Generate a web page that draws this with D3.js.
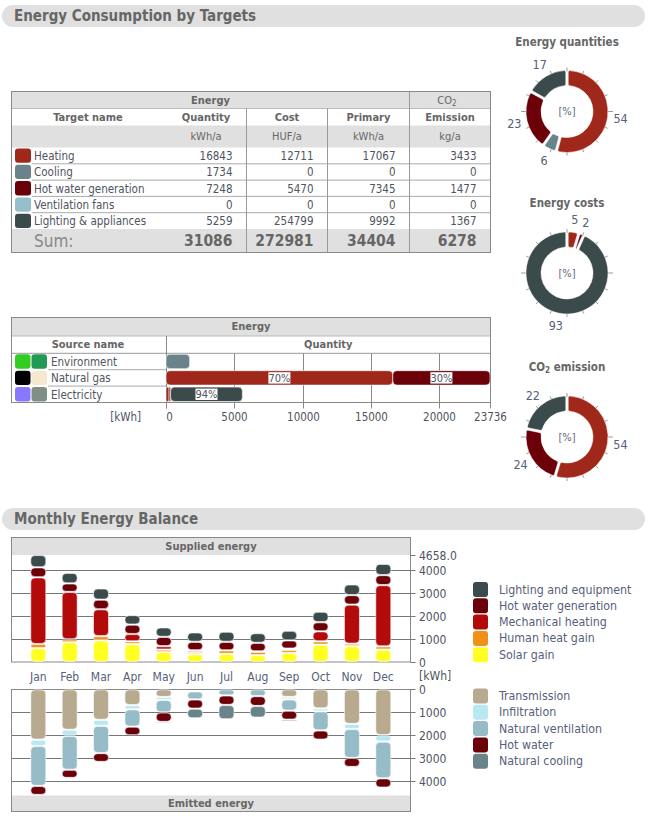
<!DOCTYPE html>
<html><head><meta charset="utf-8">
<script src="https://cdn.jsdelivr.net/npm/d3@7"></script>
<style>
body{margin:0;background:#fff;}
svg text{font-family:'DejaVu Sans Condensed','DejaVu Sans',sans-serif;font-stretch:condensed;}
</style></head><body>
<svg id="c" width="650" height="824"></svg>
<script>
// ---------------- DATA ----------------
const targets = ["Heating","Cooling","Hot water generation","Ventilation fans","Lighting & appliances"];
const targetColors = ["#a0281a","#6a838b","#6b0008","#96bfcc","#3b4a4a"];
const quantity = [16843,1734,7248,0,5259];
const cost = [12711,0,5470,0,254799];
const primary = [17067,0,7345,0,9992];
const emission = [3433,0,1477,0,1367];
const sums = [31086,272981,34404,6278];
const columnHeads = ["Quantity","Cost","Primary","Emission"];
const columnUnits = ["kWh/a","HUF/a","kWh/a","kg/a"];

const quantityPct = [54,6,23,0,17];
const costPct = [5,0,2,0,93];
const emissionPct = [54,0,24,0,22];

const sources = ["Environment","Natural gas","Electricity"];
const sourceSwatchA = ["#33cc22","#000000","#8877ff"];
const sourceSwatchB = ["#229955","#f5e8cc","#7f8f85"];
// stacked segments per source: target index, value, label
const envSegTarget = [1], envSegValue = [1734], envSegLabel = [""];
const gasSegTarget = [0,2], gasSegValue = [16615,7121], gasSegLabel = ["70%","30%"];
const elecSegTarget = [0,2,4], elecSegValue = [228,108,5259], elecSegLabel = ["","","94%"];
const sourceTicks = [0,5000,10000,15000,20000,23736];

const months = ["Jan","Feb","Mar","Apr","May","Jun","Jul","Aug","Sep","Oct","Nov","Dec"];
const solarGain   = [608,860,940,775,435,340,355,295,398,754,690,543];
const humanGain   = [175,125,183,123,108,90,152,150,130,145,107,138];
const mechHeating = [2905,2065,1174,320,145,80,0,20,58,438,1703,2667];
const hotWaterGen = [435,370,418,412,406,370,373,370,355,395,413,435];
const lighting    = [535,464,488,413,413,410,439,420,420,456,464,492];

const transmission = [2190,1760,1326,688,333,50,0,0,333,833,1507,1993];
const infiltration = [275,262,261,182,131,40,0,0,109,124,218,282];
const natVent      = [1738,1478,1188,753,543,352,268,297,486,833,1261,1595];
const hotWater     = [391,355,384,377,413,399,413,428,391,398,391,405];
const natCooling   = [0,0,0,0,73,420,623,507,87,58,0,0];

const suppliedNames = ["Lighting and equipment","Hot water generation","Mechanical heating","Human heat gain","Solar gain"];
const suppliedColors = ["#3b4a4a","#6b0008","#b30a0a","#f0901a","#ffff22"];
const emittedNames = ["Transmission","Infiltration","Natural ventilation","Hot water","Natural cooling"];
const emittedColors = ["#b8aa8e","#b8e8f2","#96bcc8","#6b0008","#6a838b"];
const monthTicks = [0,1000,2000,3000,4000];
const monthMax = 4658;

// ---------------- DRAW ----------------
const svg = d3.select("#c");
const TXT = "#4f5460", HEAD = "#666", LINE = "#999", GRAYBG = "#e0e0e0", LBL = "#56607a";

function text(g,x,y,s,o={}){
  return g.append("text").attr("x",x).attr("y",y).text(s)
    .attr("font-size",o.size||11.5).attr("font-weight",o.bold?"bold":"normal")
    .attr("fill",o.fill||TXT).attr("text-anchor",o.anchor||"start")
    .attr("dominant-baseline","central");
}
function hline(g,x1,x2,y,c){g.append("line").attr("x1",x1).attr("x2",x2).attr("y1",y).attr("y2",y).attr("stroke",c||LINE).attr("stroke-width",1);}
function vline(g,x,y1,y2,c){g.append("line").attr("x1",x).attr("x2",x).attr("y1",y1).attr("y2",y2).attr("stroke",c||LINE).attr("stroke-width",1);}

// section headers
function section(y,title){
  svg.append("rect").attr("x",2).attr("y",y).attr("width",643).attr("height",22).attr("rx",11).attr("fill",GRAYBG);
  text(svg,14,y+11,title,{size:15,bold:true,fill:"#666"});
}
section(5,"Energy Consumption by Targets");
section(508,"Monthly Energy Balance");

// ---- Table 1 ----
{
  const g = svg.append("g");
  const X0=11.5, X1=490.5, colR=[246.5,327.5,409.5,490.5], colL=[165.5,246.5,327.5,409.5];
  const r0=91.5, r1=108.5, r2=125.5, r3=147.5, rh=16.3, nRows=targets.length;
  const sumTop = r3+rh*nRows, sumBot=252.5;
  g.append("rect").attr("x",X0).attr("y",r0).attr("width",X1-X0).attr("height",r1-r0).attr("fill",GRAYBG);
  g.append("rect").attr("x",X0).attr("y",r2).attr("width",X1-X0).attr("height",r3-r2).attr("fill",GRAYBG);
  g.append("rect").attr("x",X0).attr("y",sumTop).attr("width",X1-X0).attr("height",sumBot-sumTop).attr("fill",GRAYBG);
  for(let i=1;i<nRows;i++) hline(g,32,X1,r3+rh*i,"#aaa");
  hline(g,X0,X1,r1,"#bbb");
  [246.5,327.5].forEach(x=>vline(g,x,r1,sumBot));
  vline(g,409.5,r0,sumBot);
  g.append("rect").attr("x",X0).attr("y",r0).attr("width",X1-X0).attr("height",sumBot-r0).attr("fill","none").attr("stroke","#888");
  text(g,(X0+409.5)/2,(r0+r1)/2,"Energy",{bold:true,fill:HEAD,anchor:"middle",size:11});
  const co = text(g,447,(r0+r1)/2,"CO",{fill:HEAD,anchor:"middle",size:11});
  co.append("tspan").attr("font-size",8).attr("dy",3).text("2");
  text(g,88,(r1+r2)/2,"Target name",{bold:true,fill:HEAD,anchor:"middle",size:11});
  columnHeads.forEach((h,i)=>{
    text(g,(colL[i]+colR[i])/2,(r1+r2)/2,h,{bold:true,fill:HEAD,anchor:"middle",size:11});
    text(g,(colL[i]+colR[i])/2,(r2+r3)/2,columnUnits[i],{fill:HEAD,anchor:"middle",size:11});
  });
  const cols=[quantity,cost,primary,emission];
  targets.forEach((t,i)=>{
    const y=r3+rh*i;
    g.append("rect").attr("x",15).attr("y",y+1).attr("width",16).attr("height",rh-2).attr("rx",3).attr("fill",targetColors[i]);
    text(g,34,y+rh/2+0.5,t);
    cols.forEach((c,j)=>text(g,colR[j]-14,y+rh/2+0.5,c[i],{anchor:"end"}));
  });
  text(g,34,(sumTop+sumBot)/2+0.5,"Sum:",{size:17,fill:"#888"});
  sums.forEach((s,j)=>text(g,colR[j]-14,(sumTop+sumBot)/2+0.5,s,{size:15.5,bold:true,fill:"#666",anchor:"end"}));
}

// ---- Donuts ----
function donut(cx,cy,titleParts,values,pcts){
  const g = svg.append("g").attr("transform",`translate(${cx},${cy})`);
  const tt = g.append("text").attr("x",0).attr("y",-70).attr("text-anchor","middle").attr("dominant-baseline","central")
    .attr("font-size",11.5).attr("font-weight","bold").attr("fill",HEAD);
  titleParts.forEach(p=>{
    const s=tt.append("tspan").text(p.t);
    if(p.sub) s.attr("font-size",8).attr("dy",3); else if(p.after) s.attr("dy",-3);
  });
  d3.range(16).forEach(i=>{
    const a=i*Math.PI/8, long=(i===4||i===12);
    const r1=40, r2= long?46:44;
    g.append("line").attr("x1",r1*Math.sin(a)).attr("y1",-r1*Math.cos(a)).attr("x2",r2*Math.sin(a)).attr("y2",-r2*Math.cos(a))
      .attr("stroke","#999").attr("stroke-width",1);
  });
  const pie=d3.pie().sort(null).value(d=>d)(values);
  const arc=d3.arc().innerRadius(26).outerRadius(41).padAngle(0.05).cornerRadius(1.5);
  g.selectAll("path.s").data(pie).enter().append("path").attr("d",arc)
    .attr("fill",(d,i)=>targetColors[i]).attr("stroke","#fff").attr("stroke-width",0.5);
  text(g,0,0,"[%]",{size:11,fill:"#667",anchor:"middle"});
  pie.forEach((d,i)=>{
    if(d.value<=0) return;
    const a=(d.startAngle+d.endAngle)/2, r=54;
    text(g,r*Math.sin(a),-r*Math.cos(a),pcts[i],{size:12.5,fill:LBL,anchor:"middle"});
  });
}
donut(567,111.5,[{t:"Energy quantities"}],quantity,quantityPct);
donut(567,273,[{t:"Energy costs"}],cost,costPct);
donut(567,437,[{t:"CO"},{t:"2",sub:true},{t:" emission",after:true}],emission,emissionPct);

// ---- Source table ----
{
  const g=svg.append("g");
  const X0=11.5,X1=490.5,XD=166;
  const r0=317.5,r1=336,r2=353.3,rh=16.4;
  const nR=sources.length, bot=r2+rh*nR;
  const x=d3.scaleLinear().domain([0,23736]).range([XD,X1-0.5]);
  g.append("rect").attr("x",X0).attr("y",r0).attr("width",X1-X0).attr("height",r1-r0).attr("fill",GRAYBG);
  text(g,(X0+X1)/2,(r0+r1)/2,"Energy",{bold:true,fill:HEAD,anchor:"middle",size:11});
  text(g,88,(r1+r2)/2,"Source name",{bold:true,fill:HEAD,anchor:"middle",size:11});
  text(g,(XD+X1)/2,(r1+r2)/2,"Quantity",{bold:true,fill:HEAD,anchor:"middle",size:11});
  hline(g,X0,X1,r1,"#bbb");
  hline(g,X0,X1,r2,LINE);
  for(let i=1;i<nR;i++) hline(g,48,XD,r2+rh*i,"#aaa");
  sourceTicks.slice(1,-1).forEach(t=>vline(g,Math.round(x(t))+0.5,r2,bot,"#888"));
  vline(g,XD+0.5,r1,bot+6,"#888");
  sourceTicks.forEach(t=>{const xx=Math.round(x(t))+0.5; vline(g,xx,bot,bot+6,"#888");
    text(g,t===0?xx+3:xx,bot+14,t,{size:11.5,fill:TXT,anchor:"middle"});});
  text(g,141,bot+14,"[kWh]",{size:11.5,fill:TXT,anchor:"end"});
  const segs=[[envSegTarget,envSegValue,envSegLabel],[gasSegTarget,gasSegValue,gasSegLabel],[elecSegTarget,elecSegValue,elecSegLabel]];
  sources.forEach((s,i)=>{
    const y=r2+rh*i;
    g.append("rect").attr("x",15).attr("y",y+1).attr("width",15.5).attr("height",rh-2).attr("rx",3).attr("fill",sourceSwatchA[i]);
    g.append("rect").attr("x",31.5).attr("y",y+1).attr("width",15.5).attr("height",rh-2).attr("rx",3).attr("fill",sourceSwatchB[i]);
    text(g,51,y+rh/2+0.5,s);
    let cum=0;
    const [tg,vals,lbls]=segs[i];
    vals.forEach((v,k)=>{
      const xa=x(cum), xb=x(cum+v);
      g.append("rect").attr("x",xa).attr("y",y+1).attr("width",Math.max(xb-xa,0.5)).attr("height",rh-2)
        .attr("rx",Math.min(4,(xb-xa)/2)).attr("fill",targetColors[tg[k]]).attr("stroke","#fff").attr("stroke-width",0.6);
      if(lbls[k]){
        const cx=(xa+xb)/2;
        g.append("rect").attr("x",cx-11).attr("y",y+2.5).attr("width",22).attr("height",rh-5).attr("fill","#fff");
        text(g,cx,y+rh/2+0.5,lbls[k],{size:11,fill:TXT,anchor:"middle"});
      }
      cum+=v;
    });
  });
  g.append("rect").attr("x",X0).attr("y",r0).attr("width",X1-X0).attr("height",bot-r0).attr("fill","none").attr("stroke","#888");
}

// ---- Monthly balance ----
{
  const g=svg.append("g");
  const X0=11.5,X1=410.5;
  const xm=d3.scalePoint().domain(months).range([38.3,383.3]);
  const yS=d3.scaleLinear().domain([0,monthMax]).range([662,555]);
  const yE=d3.scaleLinear().domain([0,monthMax]).range([689.3,796.4]);
  const bw=15;
  g.append("rect").attr("x",X0).attr("y",537.5).attr("width",X1-X0).attr("height",17.5).attr("fill",GRAYBG);
  text(g,(X0+X1)/2,546.5,"Supplied energy",{bold:true,fill:HEAD,anchor:"middle",size:11});
  monthTicks.slice(1).forEach(t=>hline(g,X0,X1,Math.round(yS(t))+0.5,"#777"));
  g.append("rect").attr("x",X0).attr("y",537.5).attr("width",X1-X0).attr("height",662-537.5).attr("fill","none").attr("stroke","#888");
  g.append("rect").attr("x",X0).attr("y",795.5).attr("width",X1-X0).attr("height",16).attr("fill",GRAYBG);
  text(g,(X0+X1)/2,803.5,"Emitted energy",{bold:true,fill:HEAD,anchor:"middle",size:11});
  monthTicks.slice(1).forEach(t=>hline(g,X0,X1,Math.round(yE(t))+0.5,"#777"));
  g.append("rect").attr("x",X0).attr("y",689.5).attr("width",X1-X0).attr("height",811.5-689.5).attr("fill","none").attr("stroke","#888");
  const axS=monthTicks.concat([monthMax]);
  axS.forEach(t=>{const yy=Math.round(yS(t))+0.5; hline(g,X1,X1+5,yy,"#777");
    text(g,419,yy,t===monthMax?t.toFixed(1):t,{size:12,fill:TXT});});
  monthTicks.forEach(t=>{const yy=Math.round(yE(t))+0.5; hline(g,X1,X1+5,yy,"#777");
    text(g,419,yy,t,{size:12,fill:TXT});});
  text(g,419,676,"[kWh]",{size:12,fill:TXT});
  months.forEach(m=>text(g,xm(m),676.5,m,{size:12,fill:LBL,anchor:"middle"}));
  const sup=[solarGain,humanGain,mechHeating,hotWaterGen,lighting];
  const supCol=[suppliedColors[4],suppliedColors[3],suppliedColors[2],suppliedColors[1],suppliedColors[0]];
  const emi=[transmission,infiltration,natVent,hotWater,natCooling];
  function seg(x,ya,yb,col){
    const top=Math.min(ya,yb)+0.6, h=Math.abs(yb-ya)-1.2;
    if(h<=0.2) return;
    g.append("rect").attr("x",x-bw/2).attr("y",top).attr("width",bw).attr("height",h)
      .attr("rx",Math.min(4,h/2)).attr("fill",col).attr("stroke","#fff").attr("stroke-width",0.6);
  }
  months.forEach((m,i)=>{
    let c=0;
    sup.forEach((s,k)=>{ if(s[i]>0) seg(xm(m),yS(c),yS(c+s[i]),supCol[k]); c+=s[i]; });
    c=0;
    emi.forEach((s,k)=>{ if(s[i]>0) seg(xm(m),yE(c),yE(c+s[i]),emittedColors[k]); c+=s[i]; });
  });
  suppliedNames.forEach((n,i)=>{
    const y=589.5+16.3*i;
    g.append("rect").attr("x",473).attr("y",y-7.5).attr("width",15).attr("height",15).attr("rx",3).attr("fill",suppliedColors[i]);
    text(g,499,y,n,{size:12.3,fill:LBL});
  });
  emittedNames.forEach((n,i)=>{
    const y=696+16.3*i;
    g.append("rect").attr("x",473).attr("y",y-7.5).attr("width",15).attr("height",15).attr("rx",3).attr("fill",emittedColors[i]);
    text(g,499,y,n,{size:12.3,fill:LBL});
  });
}
</script>
</body></html>
